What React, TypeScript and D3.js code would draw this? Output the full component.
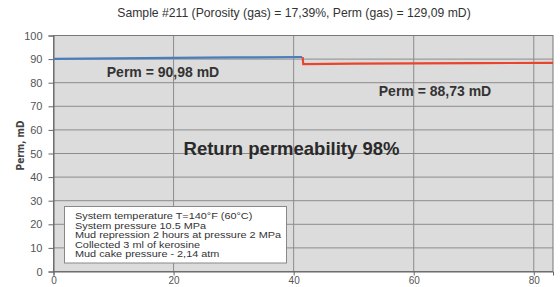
import { useEffect, useRef } from "react";
import * as d3 from "d3";

const blueX = [0, 10, 20, 30, 41.4];
const blueY = [90.1, 90.3, 90.5, 90.7, 90.9];
const redX = [41.5, 41.6, 50, 60, 70, 83.2];
const redY = [90.9, 87.9, 88.1, 88.2, 88.3, 88.4];
const yTicks = [0, 10, 20, 30, 40, 50, 60, 70, 80, 90, 100];
const xTicks = [0, 20, 40, 60, 80];
const title = "Sample #211 (Porosity (gas) = 17,39%, Perm (gas) = 129,09 mD)";
const notes = [
  "System temperature T=140°F (60°C)",
  "System pressure 10.5 MPa",
  "Mud repression 2 hours at pressure 2 MPa",
  "Collected 3 ml of kerosine",
  "Mud cake pressure - 2,14 atm",
];

export default function App() {
  const ref = useRef<SVGSVGElement>(null);

  useEffect(() => {
    const width = 560;
    const height = 287;
    const marginLeft = 53.5;
    const marginRight = 7;
    const marginTop = 35.5;
    const marginBottom = 15.5;

    const svg = d3.select(ref.current);
    svg.selectAll("*").remove();
    svg.attr("width", width).attr("height", height)
      .style("font-family", "Arial, 'Liberation Sans', sans-serif");

    svg.append("rect").attr("width", width).attr("height", height).attr("fill", "#fff");

    const x = d3.scaleLinear().domain([0, 83.2]).range([marginLeft, width - marginRight]);
    const y = d3.scaleLinear().domain([0, 100]).range([height - marginBottom, marginTop]);

    // plot area
    svg.append("rect")
      .attr("x", x(0)).attr("y", y(100))
      .attr("width", x(83.2) - x(0)).attr("height", y(0) - y(100))
      .attr("fill", "#dcdcdc");

    // grid
    svg.append("g").selectAll("line").data(yTicks.slice(1)).join("line")
      .attr("x1", x(0)).attr("x2", x(83.2))
      .attr("y1", d => y(d)).attr("y2", d => y(d))
      .attr("stroke", "#8c8c8c").attr("stroke-width", 1);
    svg.append("g").selectAll("line").data(xTicks.slice(1)).join("line")
      .attr("x1", d => x(d)).attr("x2", d => x(d))
      .attr("y1", y(0)).attr("y2", y(100))
      .attr("stroke", "#8c8c8c").attr("stroke-width", 1);

    svg.append("rect")
      .attr("x", x(0)).attr("y", y(100))
      .attr("width", x(83.2) - x(0)).attr("height", y(0) - y(100))
      .attr("fill", "none").attr("stroke", "#777").attr("stroke-width", 1);

    // axes
    const yAxis = svg.append("g")
      .attr("transform", `translate(${x(0)},0)`)
      .call(d3.axisLeft(y).tickValues(yTicks).tickSize(5).tickPadding(6));
    const xAxis = svg.append("g")
      .attr("transform", `translate(0,${y(0)})`)
      .call(d3.axisBottom(x).tickValues(xTicks).tickSize(4).tickPadding(1));
    [yAxis, xAxis].forEach(g => {
      g.select(".domain").attr("stroke", "#666");
      g.selectAll(".tick line").attr("stroke", "#666");
      g.selectAll(".tick text").attr("fill", "#555").attr("font-size", 11)
        .attr("font-family", "Arial, 'Liberation Sans', sans-serif");
    });
    xAxis.selectAll(".tick text").attr("font-size", 10);

    // series
    const line = d3.line<[number, number]>().x(d => x(d[0])).y(d => y(d[1]));
    svg.append("path")
      .datum(redX.map((v, i) => [v, redY[i]] as [number, number]))
      .attr("fill", "none").attr("stroke", "#e8452c").attr("stroke-width", 2.2)
      .attr("d", line);
    svg.append("path")
      .datum(blueX.map((v, i) => [v, blueY[i]] as [number, number]))
      .attr("fill", "none").attr("stroke", "#4a7ebb").attr("stroke-width", 2.2)
      .attr("d", line);

    // title
    svg.append("text").attr("x", 294).attr("y", 17).attr("text-anchor", "middle")
      .attr("font-size", 12.2).attr("fill", "#333").text(title);

    // y label
    svg.append("text")
      .attr("transform", `translate(24,${(y(0) + y(100)) / 2 - 8}) rotate(-90)`)
      .attr("text-anchor", "middle").attr("font-size", 10).attr("font-weight", "bold")
      .attr("fill", "#444").attr("font-family", "'DejaVu Sans Condensed', 'Liberation Sans Narrow', sans-serif")
      .text("Perm, mD");

    // annotations
    svg.append("text").attr("x", 163).attr("y", 77).attr("text-anchor", "middle")
      .attr("font-size", 14).attr("font-weight", "bold").attr("fill", "#333")
      .text("Perm = 90,98 mD");
    svg.append("text").attr("x", 435).attr("y", 95.5).attr("text-anchor", "middle")
      .attr("font-size", 14).attr("font-weight", "bold").attr("fill", "#333")
      .text("Perm = 88,73 mD");
    svg.append("text").attr("x", 291.5).attr("y", 155).attr("text-anchor", "middle")
      .attr("font-size", 18.5).attr("font-weight", "bold").attr("fill", "#2a2a2a")
      .text("Return permeability 98%");

    // notes box
    svg.append("rect").attr("x", 64.5).attr("y", 206.5).attr("width", 222).attr("height", 56.5)
      .attr("fill", "#fff").attr("stroke", "#888").attr("stroke-width", 1);
    svg.append("g")
      .attr("transform", "translate(75,0) scale(1.17,1)")
      .selectAll("text").data(notes).join("text")
      .attr("x", 0).attr("y", (d, i) => 219.5 + i * 9.5)
      .attr("font-size", 9.3).attr("fill", "#333").text(d => d);
  }, []);

  return <svg ref={ref} style={{ display: "block", position: "absolute", left: 0, top: 0 }}></svg>;
}
